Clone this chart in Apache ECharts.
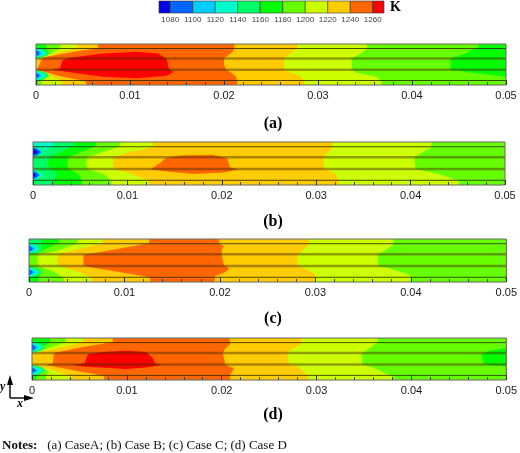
<!DOCTYPE html>
<html>
<head>
<meta charset="utf-8">
<title>Temperature contours</title>
<style>
html, body { margin: 0; padding: 0; background: #fff; }
#chart { width: 520px; height: 453px; }
</style>
<script src="https://cdn.jsdelivr.net/npm/echarts@6/dist/echarts.min.js"></script>
</head>
<body>
<div id="chart"></div>
<script>
// contour band lower limits (K) and colours, from the colour bar
var bandEdges = [1070, 1080, 1100, 1120, 1140, 1160, 1180, 1200, 1220, 1240, 1260];
var bandTop = 1270;
var bandColors = ['#0000e6', '#0066ff', '#00ccff', '#00ffcc', '#00ff66', '#00ff00', '#66ff00', '#ccff00', '#ffcc00', '#ff6600', '#ff0000'];
var barLabels = [1080, 1100, 1120, 1140, 1160, 1180, 1200, 1220, 1240, 1260];

// wall lines across the channel (fraction of height)
var wallsThin = [0.11, 0.89];
var wallsThick = [0.37, 0.645];

// every front runs top to bottom, [x (m), y (0-1)], and is filled through to x = 0.05
var risingA = [
    [1160, [[0, 1], [0, 0]]],
    [1180, [[0.0011, 1], [0.0011, 0.9], [0.0012, 0.8], [0.0006, 0.7], [0, 0.64], [0, 0.36], [0.0003, 0.3], [0.0007, 0.15], [0.0002, 0.1], [0.0002, 0]]],
    [1200, [[0.0026, 1], [0.0026, 0.9], [0.0012, 0.72], [0, 0.64], [0, 0.36], [0.0006, 0.27], [0.001, 0.15], [0.0006, 0.1], [0.0005, 0]]],
    [1220, [[0.0043, 1], [0.0043, 0.9], [0.0025, 0.8], [0.001, 0.68], [0.0004, 0.64], [0, 0.6], [0, 0.38], [0.0003, 0.35], [0.0012, 0.27], [0.0024, 0.13], [0.0027, 0.1], [0.0027, 0]]],
    [1240, [[0.0066, 1], [0.0066, 0.9], [0.0038, 0.8], [0.001, 0.68], [0.0006, 0.63], [0.0001, 0.37], [0.0008, 0.33], [0.0025, 0.22], [0.0052, 0.1], [0.0054, 0]]]
];
var fallingA = [
    [1220, [[0.0211, 1], [0.0211, 0.9], [0.0209, 0.8], [0.02, 0.65], [0.02, 0.5], [0.0202, 0.37], [0.0208, 0.3], [0.0213, 0.2], [0.0214, 0.1], [0.0214, 0]]],
    [1200, [[0.0278, 1], [0.0278, 0.9], [0.0273, 0.8], [0.0264, 0.65], [0.0264, 0.37], [0.0272, 0.3], [0.0282, 0.2], [0.0285, 0.1], [0.0285, 0]]],
    [1180, [[0.0352, 1], [0.0352, 0.9], [0.0348, 0.8], [0.0336, 0.65], [0.0336, 0.37], [0.0341, 0.3], [0.0362, 0.2], [0.0367, 0.1], [0.0367, 0]]],
    [1160, [[0.0471, 1], [0.0471, 0.93], [0.0455, 0.75], [0.0441, 0.65], [0.0441, 0.37], [0.0465, 0.3], [0.05, 0.2]]]
];
var islandsA = [
    [1260, [[0.0018, 0.37], [0.00255, 0.407], [0.00283, 0.61], [0.0036, 0.667], [0.00715, 0.77], [0.0107, 0.813], [0.013, 0.77], [0.0139, 0.634], [0.0141, 0.407], [0.0146, 0.31], [0.0139, 0.228], [0.0107, 0.163], [0.00715, 0.2], [0.0043, 0.285]]]
];

var risingB = [
    [1140, [[0, 1], [0, 0]]],
    [1160, [[0.0043, 1], [0.0043, 0.9], [0.0032, 0.8], [0.0018, 0.65], [0.0015, 0.5], [0.0018, 0.37], [0.0026, 0.25], [0.0021, 0.1], [0.0021, 0]]],
    [1180, [[0.0066, 1], [0.0066, 0.9], [0.0052, 0.78], [0.0038, 0.65], [0.0036, 0.5], [0.0038, 0.37], [0.0048, 0.25], [0.0052, 0.1], [0.0052, 0]]],
    [1200, [[0.0092, 1], [0.0092, 0.9], [0.0075, 0.78], [0.0058, 0.65], [0.0056, 0.5], [0.0058, 0.37], [0.0075, 0.25], [0.0083, 0.1], [0.0083, 0]]],
    [1220, [[0.0127, 1], [0.0127, 0.88], [0.0105, 0.78], [0.0085, 0.65], [0.0084, 0.5], [0.0086, 0.37], [0.0105, 0.25], [0.0123, 0.1], [0.0123, 0]]]
];
var fallingB = [
    [1200, [[0.0317, 1], [0.0317, 0.85], [0.0307, 0.64], [0.0309, 0.37], [0.032, 0.27], [0.0324, 0.1], [0.0324, 0]]],
    [1180, [[0.0422, 1], [0.0422, 0.88], [0.0414, 0.78], [0.0404, 0.64], [0.0405, 0.37], [0.0428, 0.27], [0.0451, 0.1], [0.0451, 0]]]
];
var islandsB = [
    [1240, [[0.01244, 0.367], [0.01343, 0.508], [0.01403, 0.625], [0.01562, 0.6875], [0.01898, 0.703], [0.02057, 0.625], [0.02085, 0.414], [0.0218, 0.367], [0.0202, 0.289], [0.017, 0.258], [0.0142, 0.3125]]],
    [1120, [[0, 1], [0.0021, 1], [0.0021, 0.9], [0.0014, 0.8], [0.0014, 0.72], [0, 0.65]]],
    [1120, [[0, 0.38], [0.001, 0.3], [0.0013, 0.24], [0.001, 0.17], [0, 0.12]]]
];

var risingC = [
    [1160, [[0, 1], [0, 0]]],
    [1180, [[0.0031, 1], [0.0031, 0.9], [0.0018, 0.78], [0.0006, 0.66], [0, 0.63], [0, 0.37], [0.0006, 0.3], [0.0012, 0.2], [0.001, 0.1], [0.001, 0]]],
    [1200, [[0.0051, 1], [0.0051, 0.9], [0.0028, 0.72], [0.001, 0.64], [0.0008, 0.5], [0.001, 0.37], [0.0025, 0.25], [0.0036, 0.1], [0.0036, 0]]],
    [1220, [[0.0077, 1], [0.0077, 0.9], [0.0032, 0.66], [0.0029, 0.5], [0.0032, 0.37], [0.0053, 0.22], [0.0066, 0.1], [0.0066, 0]]],
    [1240, [[0.0126, 1], [0.0126, 0.9], [0.0057, 0.63], [0.0057, 0.37], [0.0119, 0.14], [0.0127, 0.1], [0.0127, 0]]]
];
var fallingC = [
    [1220, [[0.0199, 1], [0.0199, 0.9], [0.0204, 0.83], [0.0202, 0.75], [0.0202, 0.63], [0.0204, 0.39], [0.021, 0.315], [0.0205, 0.22], [0.0195, 0.14], [0.0194, 0]]],
    [1200, [[0.0293, 1], [0.0293, 0.85], [0.0281, 0.63], [0.0281, 0.37], [0.029, 0.3], [0.0299, 0.2], [0.03, 0.1], [0.03, 0]]],
    [1180, [[0.0382, 1], [0.0382, 0.87], [0.0374, 0.75], [0.0365, 0.64], [0.0366, 0.38], [0.0379, 0.31], [0.0399, 0.16], [0.04, 0.1], [0.04, 0]]]
];
var islandsC = [
    [1140, [[0, 1], [0.0013, 1], [0.0013, 0.9], [0.0014, 0.78], [0.0011, 0.7], [0, 0.64]]],
    [1140, [[0, 0.37], [0.0011, 0.28], [0.0014, 0.22], [0.0008, 0.14], [0, 0.12]]]
];

var risingD = [
    [1160, [[0, 1], [0, 0]]],
    [1180, [[0.0019, 1], [0.0019, 0.9], [0.0012, 0.8], [0.0006, 0.7], [0, 0.64], [0, 0.36], [0.0005, 0.3], [0.001, 0.2], [0.0005, 0.1], [0.0004, 0]]],
    [1200, [[0.0035, 1], [0.0035, 0.9], [0.0012, 0.72], [0, 0.64], [0, 0.36], [0.0008, 0.3], [0.0018, 0.2], [0.0015, 0.1], [0.0015, 0]]],
    [1220, [[0.0054, 1], [0.0054, 0.9], [0.0012, 0.68], [0.0003, 0.64], [0, 0.6], [0, 0.38], [0.0003, 0.36], [0.0019, 0.25], [0.0039, 0.1], [0.0039, 0]]],
    [1240, [[0.0085, 1], [0.0085, 0.9], [0.0055, 0.79], [0.0023, 0.64], [0.0022, 0.4], [0.0015, 0.36], [0.005, 0.2], [0.0076, 0.1], [0.0076, 0]]]
];
var fallingD = [
    [1220, [[0.0208, 1], [0.0209, 0.85], [0.0204, 0.76], [0.0201, 0.64], [0.0204, 0.36], [0.0213, 0.28], [0.0209, 0.12], [0.0209, 0]]],
    [1200, [[0.0284, 1], [0.0283, 0.84], [0.0274, 0.74], [0.0269, 0.64], [0.0271, 0.376], [0.028, 0.32], [0.0291, 0.12], [0.0291, 0]]],
    [1180, [[0.0364, 1], [0.0364, 0.88], [0.0356, 0.76], [0.0348, 0.64], [0.0348, 0.376], [0.0361, 0.28], [0.038, 0.08], [0.038, 0]]],
    [1160, [[0.05, 0.76], [0.0483, 0.7], [0.0474, 0.62], [0.0476, 0.38], [0.0485, 0.35], [0.05, 0.33]]]
];
var islandsD = [
    [1260, [[0.00427, 0.36], [0.00556, 0.4], [0.0059, 0.616], [0.00748, 0.664], [0.00993, 0.696], [0.01203, 0.664], [0.01273, 0.52], [0.013, 0.384], [0.0137, 0.36], [0.01203, 0.296], [0.00993, 0.264], [0.00713, 0.296], [0.00538, 0.32]]]
];

// the two cold jets at the inlet, outer band first
var inletSpots = [
    [1140, [[0, 0.93], [0.0009, 0.87], [0.0014, 0.78], [0.001, 0.7], [0, 0.65]]],
    [1120, [[0, 0.9], [0.0007, 0.85], [0.0011, 0.77], [0.0007, 0.71], [0, 0.67]]],
    [1100, [[0, 0.87], [0.0004, 0.83], [0.0007, 0.77], [0.0004, 0.72], [0, 0.69]]],
    [1080, [[0, 0.84], [0.0003, 0.81], [0.0004, 0.77], [0.0003, 0.73], [0, 0.71]]],
    [1140, [[0, 0.36], [0.001, 0.31], [0.0014, 0.23], [0.0009, 0.15], [0, 0.09]]],
    [1120, [[0, 0.34], [0.0007, 0.29], [0.0011, 0.23], [0.0007, 0.16], [0, 0.11]]],
    [1100, [[0, 0.31], [0.0004, 0.27], [0.0007, 0.23], [0.0004, 0.18], [0, 0.14]]],
    [1080, [[0, 0.29], [0.0003, 0.26], [0.0004, 0.23], [0.0003, 0.2], [0, 0.17]]]
];
var inletCoreB = [
    [1080, [[0, 0.88], [0.0005, 0.84], [0.0009, 0.77], [0.0005, 0.7], [0, 0.67]]],
    [1070, [[0, 0.84], [0.0003, 0.81], [0.0005, 0.77], [0.0003, 0.73], [0, 0.71]]],
    [1080, [[0, 0.33], [0.0004, 0.29], [0.0007, 0.23], [0.0004, 0.17], [0, 0.13]]],
    [1070, [[0, 0.28], [0.0002, 0.26], [0.0003, 0.23], [0.0002, 0.2], [0, 0.18]]]
];

var panelNames = ['(a)', '(b)', '(c)', '(d)'];
var panelShapes = [
    risingA.concat(fallingA, inletSpots, islandsA),
    risingB.concat(fallingB, islandsB, inletSpots, inletCoreB),
    risingC.concat(fallingC, islandsC, inletSpots),
    risingD.concat(fallingD, inletSpots, islandsD)
];
// the first shapes of each panel are open fronts, the rest closed islands
var frontCounts = [
    risingA.length + fallingA.length,
    risingB.length + fallingB.length,
    risingC.length + fallingC.length,
    risingD.length + fallingD.length
];

var xMax = 0.05;
var panelBoxes = [
    { left: 36, top: 44, width: 470, height: 41 },
    { left: 33, top: 142, width: 472, height: 43 },
    { left: 29, top: 239, width: 478, height: 43 },
    { left: 32, top: 338, width: 477, height: 42 }
];
var nameTops = [116, 214, 311, 407];
var textColor = '#1a1a1a';

function tempColor(temp) {
    return bandColors[bandEdges.indexOf(temp)];
}

var grids = [], xAxes = [], yAxes = [], series = [], titles = [];

panelBoxes.forEach(function(box, p) {
    grids.push({ left: box.left, top: box.top, width: box.width, height: box.height });
    xAxes.push({
        gridIndex: p, type: 'value', min: 0, max: xMax, interval: 0.01, z: 5,
        axisLine: { show: false },
        axisTick: { inside: true, length: 5, lineStyle: { color: '#333', width: 1 } },
        minorTick: { show: true, splitNumber: 5, length: 3, lineStyle: { color: '#444', width: 1 } },
        splitLine: { show: false },
        axisLabel: { color: textColor, fontSize: 11, margin: 5, fontFamily: 'Liberation Sans', showMinLabel: true, showMaxLabel: true }
    });
    yAxes.push({
        gridIndex: p, type: 'value', min: 0, max: 1,
        axisLine: { show: false }, axisTick: { show: false }, axisLabel: { show: false }, splitLine: { show: false }
    });

    // filled contour bands, painted in order
    var shapes = panelShapes[p];
    series.push({
        type: 'custom', xAxisIndex: p, yAxisIndex: p, silent: true, animation: false, z: 2,
        data: shapes.map(function(s, i) { return [i]; }),
        encode: { x: [], y: [] },
        renderItem: function(params, api) {
            var idx = api.value(0);
            var pts = shapes[idx][1].slice();
            if (idx < frontCounts[p]) {
                pts.push([xMax, pts[pts.length - 1][1]]);
                pts.push([xMax, pts[0][1]]);
            }
            return {
                type: 'polygon',
                shape: { points: pts.map(function(q) { return api.coord(q); }) },
                style: { fill: tempColor(shapes[idx][0]) }
            };
        }
    });

    // channel walls and outer frame on top of the bands
    series.push({
        type: 'custom', xAxisIndex: p, yAxisIndex: p, silent: true, animation: false, z: 3,
        data: [[0]],
        encode: { x: [], y: [] },
        renderItem: function(params, api) {
            var children = [];
            wallsThick.forEach(function(y) {
                var a = api.coord([0, y]), b = api.coord([xMax, y]);
                children.push({ type: 'line', shape: { x1: a[0], y1: a[1], x2: b[0], y2: b[1] }, style: { stroke: 'rgba(70,40,0,0.45)', lineWidth: 2.5 } });
            });
            wallsThin.forEach(function(y) {
                var a = api.coord([0, y]), b = api.coord([xMax, y]);
                children.push({ type: 'line', shape: { x1: a[0], y1: a[1], x2: b[0], y2: b[1] }, style: { stroke: 'rgba(40,40,0,0.8)', lineWidth: 1 } });
            });
            var tl = api.coord([0, 1]), br = api.coord([xMax, 0]);
            children.push({ type: 'rect', shape: { x: tl[0], y: tl[1], width: br[0] - tl[0], height: br[1] - tl[1] }, style: { fill: 'none', stroke: '#666', lineWidth: 1 } });
            return { type: 'group', children: children };
        }
    });

    titles.push({
        text: panelNames[p], left: 273, top: nameTops[p], textAlign: 'center', padding: 0,
        textStyle: { fontFamily: 'Liberation Serif', fontWeight: 'bold', fontSize: 16, color: '#000' }
    });
});

// colour bar
grids.push({ left: 159, top: 1, width: 225, height: 12 });
xAxes.push({
    gridIndex: 4, type: 'value', min: bandEdges[0], max: bandTop,
    axisLine: { show: false }, axisTick: { show: false }, splitLine: { show: false },
    axisLabel: {
        customValues: barLabels, color: '#444', fontSize: 8, margin: 3, fontFamily: 'Liberation Sans',
        formatter: function(v) { return String(v); }
    }
});
yAxes.push({ gridIndex: 4, type: 'value', min: 0, max: 1, show: false });
series.push({
    type: 'custom', xAxisIndex: 4, yAxisIndex: 4, silent: true, animation: false,
    data: bandEdges.map(function(lo, i) { return [lo, i < bandEdges.length - 1 ? bandEdges[i + 1] : bandTop, i]; }),
    encode: { x: [0, 1], y: [] },
    renderItem: function(params, api) {
        var a = api.coord([api.value(0), 1]), b = api.coord([api.value(1), 0]);
        return {
            type: 'rect',
            shape: { x: a[0], y: a[1], width: b[0] - a[0], height: b[1] - a[1] },
            style: { fill: bandColors[api.value(2)], stroke: '#333', lineWidth: 0.6 }
        };
    }
});

titles.push({
    text: 'K', left: 390, top: 0, padding: 0,
    textStyle: { fontFamily: 'Liberation Serif', fontWeight: 'bold', fontSize: 14, color: '#000' }
});
titles.push({
    text: '{b|Notes:}   (a) CaseA; (b) Case B; (c) Case C; (d) Case D', left: 2, top: 439, padding: 0,
    textStyle: {
        fontFamily: 'Liberation Serif', fontWeight: 'normal', fontSize: 13, color: '#111',
        rich: { b: { fontFamily: 'Liberation Serif', fontWeight: 'bold', fontSize: 13, color: '#111' } }
    }
});

var chart = echarts.init(document.getElementById('chart'), null, { renderer: 'canvas' });
chart.setOption({
    backgroundColor: '#fff',
    animation: false,
    title: titles,
    grid: grids,
    xAxis: xAxes,
    yAxis: yAxes,
    series: series,
    // the x/y direction marker next to panel (d)
    graphic: [
        { type: 'line', shape: { x1: 10, y1: 398, x2: 10, y2: 380 }, style: { stroke: '#000', lineWidth: 1.4 } },
        { type: 'line', shape: { x1: 10, y1: 398, x2: 28, y2: 398 }, style: { stroke: '#000', lineWidth: 1.4 } },
        { type: 'polygon', shape: { points: [[10, 375], [7, 385], [13, 385]] }, style: { fill: '#000' } },
        { type: 'polygon', shape: { points: [[34, 398], [24, 395], [24, 401]] }, style: { fill: '#000' } },
        { type: 'text', x: 0, y: 381, style: { text: 'y', font: 'italic bold 12px "Liberation Serif"', fill: '#000' } },
        { type: 'text', x: 17, y: 398, style: { text: 'x', font: 'italic bold 12px "Liberation Serif"', fill: '#000' } }
    ]
});
window.addEventListener('resize', function() {
    chart.resize();
});
</script>
</body>
</html>
